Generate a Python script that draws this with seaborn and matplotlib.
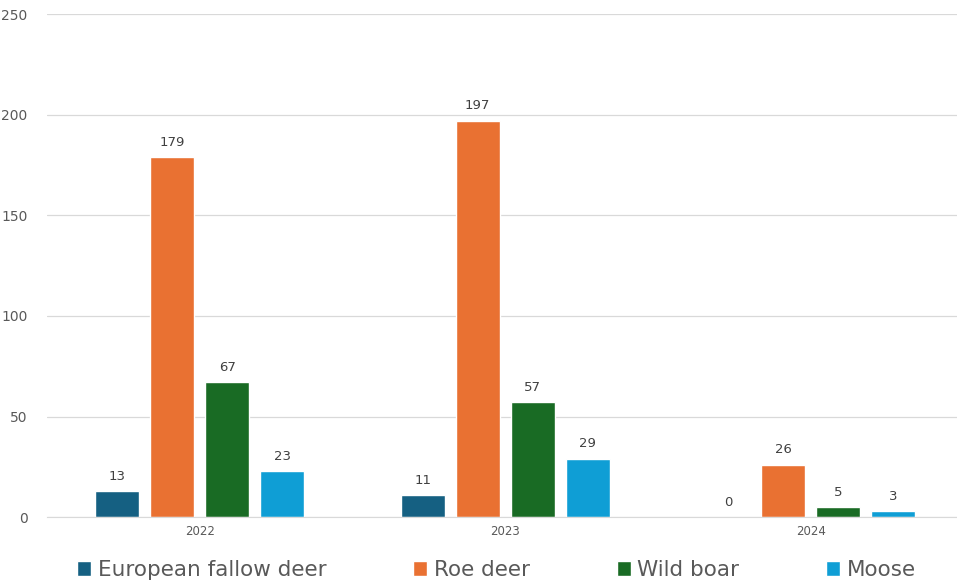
import matplotlib.pyplot as plt
import seaborn as sns
import pandas as pd

# Data
years = ['2022', '2023', '2024']
species = ['European fallow deer', 'Roe deer', 'Wild boar', 'Moose']
fallow_deer = [13, 11, 0]
roe_deer = [179, 197, 26]
wild_boar = [67, 57, 5]
moose = [23, 29, 3]
colors = ['#156082', '#E97132', '#196B24', '#0F9ED5']

rows = []
for sp, vals in zip(species, [fallow_deer, roe_deer, wild_boar, moose]):
    for yr, v in zip(years, vals):
        rows.append({'Year': yr, 'Species': sp, 'Count': v})
df = pd.DataFrame(rows)

sns.set_style('white')
fig = plt.figure(figsize=(9.57, 5.85), dpi=100)
ax = fig.add_axes([0.049, 0.116, 0.951, 0.86])

sns.barplot(data=df, x='Year', y='Count', hue='Species', hue_order=species,
            palette=colors, width=0.72, gap=0.2, saturation=1, ax=ax)

for c in ax.containers:
    ax.bar_label(c, fmt='%d', padding=6, fontsize=9.5, color='#404040')

ax.set_ylim(0, 250)
ax.set_yticks(range(0, 251, 50))
ax.set_xlim(-0.5, 2.479)
ax.yaxis.grid(True, color='#d9d9d9', linewidth=0.9)
ax.set_axisbelow(True)
for s in ['top', 'right', 'left']:
    ax.spines[s].set_visible(False)
ax.spines['bottom'].set_color('#d9d9d9')
ax.tick_params(axis='y', length=0, labelsize=10, labelcolor='#595959', pad=14)
ax.tick_params(axis='x', length=0, labelsize=8.5, labelcolor='#595959', pad=6)
ax.set_xlabel('')
ax.set_ylabel('')

ax.legend(loc='center', bbox_to_anchor=(0.024, -0.125, 0.94, 0.04), mode='expand',
          ncol=4, frameon=False, fontsize=15.5, labelcolor='#595959',
          handlelength=0.65, handleheight=0.65, handletextpad=0.3, borderaxespad=0)

fig.savefig('out.png', dpi=100)
